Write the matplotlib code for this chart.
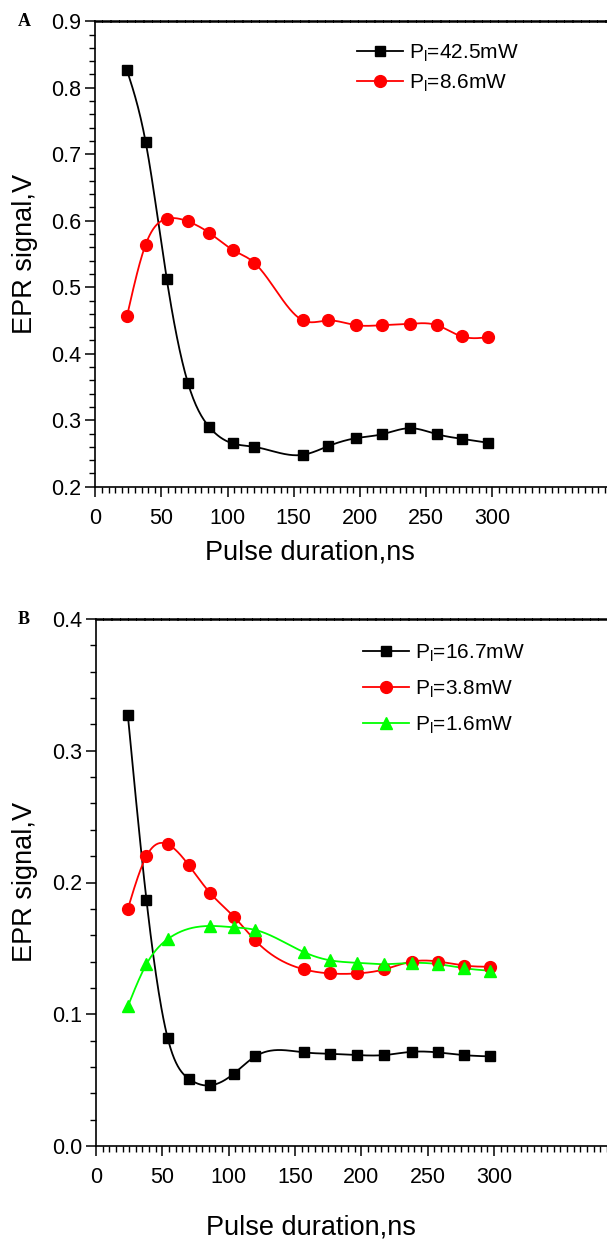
import numpy as np
import matplotlib
matplotlib.use("Agg")
import matplotlib.pyplot as plt
from matplotlib.ticker import FixedLocator, FormatStrFormatter, MultipleLocator

plt.rcParams['font.family'] = ['Liberation Sans', 'DejaVu Sans']
plt.rcParams['mathtext.fontset'] = 'custom'
plt.rcParams['mathtext.rm'] = 'Liberation Sans'

# pulse durations, ns
pulse = [24, 38, 54, 70, 86, 104, 120, 157, 176, 197, 217, 238, 258, 277, 297]
pulse_green = [24, 38, 54, 86, 104, 120, 157, 176, 197, 217, 238, 258, 277, 297]

# panel A
a_42_5 = [0.826, 0.719, 0.512, 0.356, 0.290, 0.265, 0.260, 0.248, 0.261,
          0.273, 0.279, 0.288, 0.279, 0.272, 0.266]
a_8_6 = [0.457, 0.564, 0.603, 0.599, 0.582, 0.556, 0.537, 0.450, 0.450,
         0.443, 0.443, 0.445, 0.443, 0.426, 0.425]

# panel B
b_16_7 = [0.327, 0.187, 0.082, 0.051, 0.046, 0.055, 0.068, 0.071, 0.070,
          0.069, 0.069, 0.0715, 0.071, 0.069, 0.068]
b_3_8 = [0.180, 0.220, 0.229, 0.213, 0.192, 0.174, 0.156, 0.134, 0.131,
         0.131, 0.134, 0.140, 0.140, 0.137, 0.136]
b_1_6 = [0.106, 0.138, 0.157, 0.167, 0.166, 0.164, 0.147, 0.141, 0.139,
         0.138, 0.139, 0.138, 0.135, 0.133]

labels_a = [r'P$_\mathregular{l}$=42.5mW', r'P$_\mathregular{l}$=8.6mW']
labels_b = [r'P$_\mathregular{l}$=16.7mW', r'P$_\mathregular{l}$=3.8mW', r'P$_\mathregular{l}$=1.6mW']


def spline(x, y, n=400):
    # natural cubic spline, like the Origin "spline" connector
    x = np.asarray(x, float)
    y = np.asarray(y, float)
    m = len(x)
    h = np.diff(x)
    A = np.zeros((m, m))
    r = np.zeros(m)
    A[0, 0] = A[-1, -1] = 1
    for i in range(1, m - 1):
        A[i, i - 1] = h[i - 1]
        A[i, i] = 2 * (h[i - 1] + h[i])
        A[i, i + 1] = h[i]
        r[i] = 3 * ((y[i + 1] - y[i]) / h[i] - (y[i] - y[i - 1]) / h[i - 1])
    c = np.linalg.solve(A, r)
    b = (y[1:] - y[:-1]) / h - h * (2 * c[:-1] + c[1:]) / 3
    d = (c[1:] - c[:-1]) / (3 * h)
    xs = np.linspace(x[0], x[-1], n)
    k = np.clip(np.searchsorted(x, xs) - 1, 0, m - 2)
    dx = xs - x[k]
    return xs, y[k] + b[k] * dx + c[k] * dx ** 2 + d[k] * dx ** 3


def series(ax, x, y, color, marker, ms, label):
    xs, ys = spline(x, y)
    ax.plot(xs, ys, color=color, lw=1.3, zorder=2)
    ax.plot(x, y, ls='none', marker=marker, ms=ms, color=color, zorder=3)
    # proxy for the legend: line + marker
    ax.plot([], [], color=color, lw=1.3, marker=marker, ms=ms, label=label)


def style(ax, ylim, ymajor, xright):
    ax.set_xlim(0, xright)
    ax.set_ylim(*ylim)
    ax.xaxis.set_major_locator(FixedLocator([0, 50, 100, 150, 200, 250, 300]))
    ax.xaxis.set_minor_locator(MultipleLocator(5))
    ax.yaxis.set_major_locator(MultipleLocator(ymajor))
    ax.yaxis.set_minor_locator(MultipleLocator(0.02))
    ax.yaxis.set_major_formatter(FormatStrFormatter('%.1f'))
    ax.spines['right'].set_visible(False)
    ax.spines['left'].set_linewidth(1.2)
    ax.spines['bottom'].set_linewidth(1.2)
    ax.spines['top'].set_linewidth(1.8)
    ax.spines['top'].set_linestyle((0, (2.5, 0.8)))
    ax.tick_params(which='major', direction='out', length=7, width=1.1,
                   labelsize=15.5, top=False, right=False)
    ax.tick_params(which='minor', direction='out', length=4, width=1.0,
                   top=False, right=False)
    ax.tick_params(axis='x', which='major', pad=8)
    ax.tick_params(axis='y', which='major', pad=3)


W, H = 607, 1244
fig = plt.figure(figsize=(W / 100, H / 100), dpi=100)

# panel A
ax1 = fig.add_axes([95.3 / W, 1 - 486.7 / H, 1 - 95.3 / W, 465.4 / H])
series(ax1, pulse, a_42_5, 'black', 's', 7.5, labels_a[0])
series(ax1, pulse, a_8_6, 'red', 'o', 8.5, labels_a[1])
style(ax1, (0.2, 0.9), 0.1, (W - 95.3) / 1.3233)
ax1.legend(loc='upper left', bbox_to_anchor=(0.511, 0.955), frameon=False,
           fontsize=15, handlelength=2.2, handletextpad=0.3,
           labelspacing=0.4, borderpad=0, borderaxespad=0)

# panel B
ax2 = fig.add_axes([96 / W, 1 - 1146 / H, 1 - 96 / W, 527 / H])
series(ax2, pulse, b_16_7, 'black', 's', 7.5, labels_b[0])
series(ax2, pulse, b_3_8, 'red', 'o', 8.5, labels_b[1])
series(ax2, pulse_green, b_1_6, '#00ff00', '^', 9, labels_b[2])
style(ax2, (0.0, 0.4), 0.1, (W - 96) / 1.327)
ax2.legend(loc='upper left', bbox_to_anchor=(0.5225, 0.955), frameon=False,
           fontsize=15, handlelength=2.2, handletextpad=0.3,
           labelspacing=0.68, borderpad=0, borderaxespad=0)

# axis titles and panel letters
for yc in (254, 882):
    fig.text(25 / W, 1 - yc / H, 'EPR signal,V', rotation=90,
             ha='center', va='center', fontsize=19.5)
fig.text(310 / W, 1 - 553 / H, 'Pulse duration,ns', ha='center', va='center', fontsize=19.5)
fig.text(311 / W, 1 - 1227 / H, 'Pulse duration,ns', ha='center', va='center', fontsize=19.5)
fig.text(18 / W, 1 - 21 / H, 'A', family=['Liberation Serif', 'DejaVu Serif'],
         weight='bold', fontsize=13, ha='left', va='center')
fig.text(18 / W, 1 - 619 / H, 'B', family=['Liberation Serif', 'DejaVu Serif'],
         weight='bold', fontsize=13, ha='left', va='center')

fig.savefig('out.png', dpi=100)
